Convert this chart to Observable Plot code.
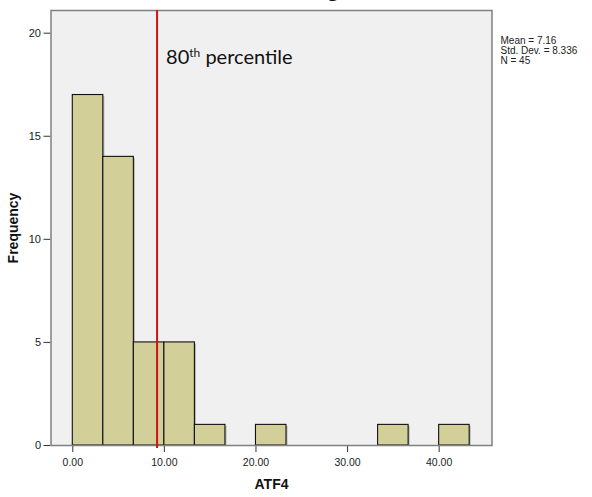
<!DOCTYPE html>
<html>
<head>
<meta charset="utf-8">
<script src="https://cdn.jsdelivr.net/npm/d3@7"></script>
<script src="https://cdn.jsdelivr.net/npm/@observablehq/plot@0.6"></script>
<style>
  html, body { margin: 0; padding: 0; background: #ffffff; }
  #chart svg { display: block; }
</style>
</head>
<body>
<div id="chart"></div>
<script>
// Histogram bins of ATF4 (bin width ≈ 3.33)
const binLower = [0, 3.333, 6.667, 10, 13.333, 20, 33.333, 40];
const binUpper = [3.333, 6.667, 10, 13.333, 16.667, 23.333, 36.667, 43.333];
const counts   = [17, 14, 5, 5, 1, 1, 1, 1];

const xTicks = [0, 10, 20, 30, 40];
const yTicks = [0, 5, 10, 15, 20];

const percentile80 = 9.2;
const statsLines = ["Mean = 7.16", "Std. Dev. = 8.336", "N = 45"];
const titleText = "Histogram";
const xLabel = "ATF4";
const yLabel = "Frequency";

const sans = "'Liberation Sans', Arial, sans-serif";

const chart = Plot.plot({
  width: 592,
  height: 497,
  marginLeft: 50.5,
  marginRight: 100.5,
  marginTop: 10,
  marginBottom: 52,
  style: { fontFamily: sans, background: "#ffffff", overflow: "visible" },
  x: { domain: [-2.38, 45.77] },
  y: { domain: [0, 21.1] },
  marks: [
    Plot.frame({ fill: "#f0f0f0", stroke: null }),
    // bar shadow
    Plot.rectY(counts, {
      x1: binLower, x2: binUpper, y: counts,
      fill: "#7a7a7a", fillOpacity: 0.45, dx: 1.6, dy: 1.6, clip: true
    }),
    Plot.rectY(counts, {
      x1: binLower, x2: binUpper, y: counts,
      fill: "#d3cf99", stroke: "#111111", strokeWidth: 1.1
    }),
    Plot.axisX({
      ticks: xTicks, tickFormat: d => d.toFixed(2), tickSize: 7, tickPadding: 6,
      fontSize: 10.5, stroke: "#333", fill: "#222", label: null
    }),
    Plot.axisY({
      ticks: yTicks, tickSize: 7, tickPadding: 3,
      fontSize: 11, stroke: "#333", fill: "#222", label: null
    }),
    Plot.frame({ stroke: "#808080", strokeWidth: 1.5 }),
    Plot.ruleX([percentile80], { stroke: "#cc1414", strokeWidth: 2, insetBottom: -3 }),
    Plot.text(["80th percentile"], {
      x: () => percentile80, frameAnchor: "top", dx: 9, dy: 53.3,
      textAnchor: "start", lineAnchor: "bottom",
      fontFamily: "Lato, 'Open Sans', sans-serif", fontSize: 20, fill: "#111",
      className: "p80label"
    }),
    Plot.text([statsLines.join("\n")], {
      frameAnchor: "top-right", dx: 8.5, dy: 26.5,
      textAnchor: "start", lineAnchor: "top", lineHeight: 1.0,
      fontSize: 10, fill: "#222"
    }),
    Plot.text([xLabel], {
      frameAnchor: "bottom", dy: 43, lineAnchor: "bottom",
      fontSize: 14, fontWeight: "bold", fill: "#111"
    }),
    Plot.text([yLabel], {
      frameAnchor: "left", dx: -33.5, rotate: -90,
      lineAnchor: "bottom", textAnchor: "middle",
      fontSize: 14, fontWeight: "bold", fill: "#111"
    }),
    Plot.text([titleText], {
      frameAnchor: "top-left", dx: 215, dy: -14.5,
      textAnchor: "start", lineAnchor: "bottom",
      fontSize: 24, fontWeight: "bold", fill: "#111"
    })
  ]
});

// superscript "th" in the percentile label
d3.select(chart).selectAll("g.p80label text").each(function () {
  const t = d3.select(this);
  t.text(null);
  t.append("tspan").text("80");
  t.append("tspan").attr("dy", "-0.55em").attr("font-size", "0.6em").text("th");
  t.append("tspan").attr("dy", "0.33em").text(" percentile");
});

document.getElementById("chart").appendChild(chart);
</script>
</body>
</html>
